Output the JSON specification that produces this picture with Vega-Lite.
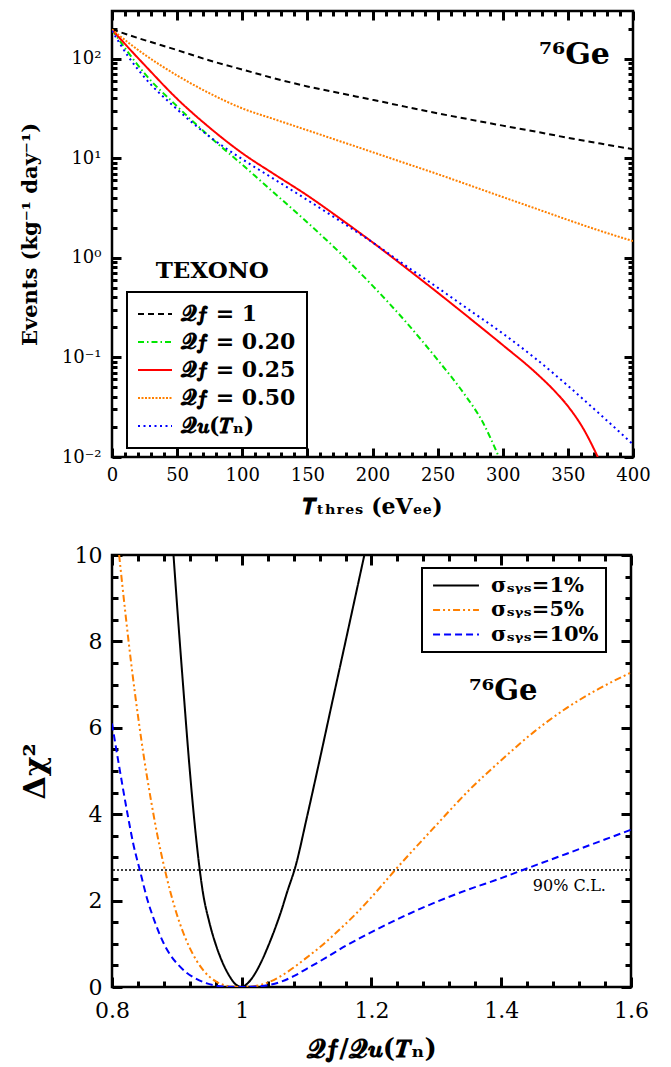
{
  "$schema": "https://vega.github.io/schema/vega-lite/v6.json",
  "padding": {"left": 18, "top": 8, "right": 10, "bottom": 5},
  "config": {
    "font": "DejaVu Serif",
    "view": {"stroke": "black", "strokeWidth": 2.5},
    "axis": {"domain": false, "grid": false, "zindex": 1, "labelColor": "black", "titleColor": "black", "labelFont": "DejaVu Serif", "titleFont": "DejaVu Serif", "labelFlush": false, "labelOverlap": false},
    "legend": {"strokeWidth": 2}
  },
  "datasets": {
    "top": [
      {"series": "Qf1", "T": 0, "events": 195.4}, {"series": "Qf1", "T": 25, "events": 153.1}, {"series": "Qf1", "T": 50, "events": 121.6}, {"series": "Qf1", "T": 75, "events": 95.5}, {"series": "Qf1", "T": 100, "events": 77.6}, {"series": "Qf1", "T": 125, "events": 63.1}, {"series": "Qf1", "T": 150, "events": 52.5}, {"series": "Qf1", "T": 175, "events": 44.9}, {"series": "Qf1", "T": 200, "events": 38.5}, {"series": "Qf1", "T": 225, "events": 32.9}, {"series": "Qf1", "T": 250, "events": 28.2}, {"series": "Qf1", "T": 275, "events": 24.4}, {"series": "Qf1", "T": 300, "events": 21.2}, {"series": "Qf1", "T": 325, "events": 18.5}, {"series": "Qf1", "T": 350, "events": 16.0}, {"series": "Qf1", "T": 375, "events": 14.0}, {"series": "Qf1", "T": 400, "events": 12.3},
      {"series": "Qf020", "T": 0, "events": 195.0}, {"series": "Qf020", "T": 12.5, "events": 114.8}, {"series": "Qf020", "T": 25, "events": 70.8}, {"series": "Qf020", "T": 50, "events": 33.1}, {"series": "Qf020", "T": 75, "events": 16.4}, {"series": "Qf020", "T": 100, "events": 8.61}, {"series": "Qf020", "T": 125, "events": 4.42}, {"series": "Qf020", "T": 150, "events": 2.26}, {"series": "Qf020", "T": 175, "events": 1.122}, {"series": "Qf020", "T": 200, "events": 0.525}, {"series": "Qf020", "T": 225, "events": 0.232}, {"series": "Qf020", "T": 250, "events": 0.0944}, {"series": "Qf020", "T": 270, "events": 0.0437}, {"series": "Qf020", "T": 285, "events": 0.0219}, {"series": "Qf020", "T": 297, "events": 0.01},
      {"series": "Qf025", "T": 0, "events": 195.4}, {"series": "Qf025", "T": 12.5, "events": 128.8}, {"series": "Qf025", "T": 25, "events": 86.1}, {"series": "Qf025", "T": 50, "events": 39.4}, {"series": "Qf025", "T": 75, "events": 20.2}, {"series": "Qf025", "T": 100, "events": 11.22}, {"series": "Qf025", "T": 125, "events": 6.84}, {"series": "Qf025", "T": 150, "events": 4.22}, {"series": "Qf025", "T": 175, "events": 2.48}, {"series": "Qf025", "T": 200, "events": 1.43}, {"series": "Qf025", "T": 225, "events": 0.804}, {"series": "Qf025", "T": 250, "events": 0.447}, {"series": "Qf025", "T": 275, "events": 0.245}, {"series": "Qf025", "T": 300, "events": 0.133}, {"series": "Qf025", "T": 325, "events": 0.0708}, {"series": "Qf025", "T": 340, "events": 0.0457}, {"series": "Qf025", "T": 350, "events": 0.0324}, {"series": "Qf025", "T": 362, "events": 0.0191}, {"series": "Qf025", "T": 373, "events": 0.01},
      {"series": "Qf050", "T": 0, "events": 195.4}, {"series": "Qf050", "T": 12.5, "events": 144.5}, {"series": "Qf050", "T": 25, "events": 109.6}, {"series": "Qf050", "T": 50, "events": 67.6}, {"series": "Qf050", "T": 75, "events": 44.7}, {"series": "Qf050", "T": 100, "events": 31.6}, {"series": "Qf050", "T": 125, "events": 24.5}, {"series": "Qf050", "T": 150, "events": 19.05}, {"series": "Qf050", "T": 175, "events": 14.8}, {"series": "Qf050", "T": 200, "events": 11.5}, {"series": "Qf050", "T": 225, "events": 8.91}, {"series": "Qf050", "T": 250, "events": 6.92}, {"series": "Qf050", "T": 275, "events": 5.31}, {"series": "Qf050", "T": 300, "events": 4.07}, {"series": "Qf050", "T": 325, "events": 3.13}, {"series": "Qf050", "T": 350, "events": 2.4}, {"series": "Qf050", "T": 375, "events": 1.86}, {"series": "Qf050", "T": 400, "events": 1.47},
      {"series": "QuTN", "T": 0, "events": 190.5}, {"series": "QuTN", "T": 12.5, "events": 104.7}, {"series": "QuTN", "T": 25, "events": 64.6}, {"series": "QuTN", "T": 50, "events": 30.9}, {"series": "QuTN", "T": 75, "events": 16.4}, {"series": "QuTN", "T": 100, "events": 9.77}, {"series": "QuTN", "T": 125, "events": 6.1}, {"series": "QuTN", "T": 150, "events": 3.8}, {"series": "QuTN", "T": 175, "events": 2.34}, {"series": "QuTN", "T": 200, "events": 1.429}, {"series": "QuTN", "T": 225, "events": 0.841}, {"series": "QuTN", "T": 250, "events": 0.501}, {"series": "QuTN", "T": 275, "events": 0.295}, {"series": "QuTN", "T": 300, "events": 0.174}, {"series": "QuTN", "T": 325, "events": 0.0977}, {"series": "QuTN", "T": 350, "events": 0.0519}, {"series": "QuTN", "T": 375, "events": 0.0266}, {"series": "QuTN", "T": 400, "events": 0.0134}
    ],
    "bottom": [
      {"sigma": "s1", "r": 0.8948, "dchi2": 10}, {"sigma": "s1", "r": 0.9, "dchi2": 8.9}, {"sigma": "s1", "r": 0.91, "dchi2": 6.9}, {"sigma": "s1", "r": 0.92, "dchi2": 5.0}, {"sigma": "s1", "r": 0.93, "dchi2": 3.4}, {"sigma": "s1", "r": 0.94, "dchi2": 2.2}, {"sigma": "s1", "r": 0.95, "dchi2": 1.5}, {"sigma": "s1", "r": 0.96, "dchi2": 0.98}, {"sigma": "s1", "r": 0.97, "dchi2": 0.58}, {"sigma": "s1", "r": 0.98, "dchi2": 0.28}, {"sigma": "s1", "r": 0.99, "dchi2": 0.07}, {"sigma": "s1", "r": 1.0, "dchi2": 0}, {"sigma": "s1", "r": 1.01, "dchi2": 0.1}, {"sigma": "s1", "r": 1.02, "dchi2": 0.3}, {"sigma": "s1", "r": 1.03, "dchi2": 0.58}, {"sigma": "s1", "r": 1.04, "dchi2": 0.92}, {"sigma": "s1", "r": 1.05, "dchi2": 1.3}, {"sigma": "s1", "r": 1.06, "dchi2": 1.72}, {"sigma": "s1", "r": 1.07, "dchi2": 2.2}, {"sigma": "s1", "r": 1.083, "dchi2": 2.8}, {"sigma": "s1", "r": 1.1, "dchi2": 3.9}, {"sigma": "s1", "r": 1.12, "dchi2": 5.25}, {"sigma": "s1", "r": 1.14, "dchi2": 6.63}, {"sigma": "s1", "r": 1.16, "dchi2": 8.0}, {"sigma": "s1", "r": 1.189, "dchi2": 10},
      {"sigma": "s5", "r": 0.811, "dchi2": 10}, {"sigma": "s5", "r": 0.82, "dchi2": 8.74}, {"sigma": "s5", "r": 0.83, "dchi2": 7.44}, {"sigma": "s5", "r": 0.84, "dchi2": 6.28}, {"sigma": "s5", "r": 0.85, "dchi2": 5.24}, {"sigma": "s5", "r": 0.86, "dchi2": 4.33}, {"sigma": "s5", "r": 0.87, "dchi2": 3.51}, {"sigma": "s5", "r": 0.88, "dchi2": 2.81}, {"sigma": "s5", "r": 0.89, "dchi2": 2.2}, {"sigma": "s5", "r": 0.9, "dchi2": 1.68}, {"sigma": "s5", "r": 0.91, "dchi2": 1.25}, {"sigma": "s5", "r": 0.92, "dchi2": 0.9}, {"sigma": "s5", "r": 0.93, "dchi2": 0.62}, {"sigma": "s5", "r": 0.94, "dchi2": 0.4}, {"sigma": "s5", "r": 0.95, "dchi2": 0.24}, {"sigma": "s5", "r": 0.96, "dchi2": 0.13}, {"sigma": "s5", "r": 0.97, "dchi2": 0.058}, {"sigma": "s5", "r": 0.98, "dchi2": 0.019}, {"sigma": "s5", "r": 0.99, "dchi2": 0.003}, {"sigma": "s5", "r": 1.0, "dchi2": 0}, {"sigma": "s5", "r": 1.02, "dchi2": 0.02}, {"sigma": "s5", "r": 1.04, "dchi2": 0.1}, {"sigma": "s5", "r": 1.06, "dchi2": 0.25}, {"sigma": "s5", "r": 1.08, "dchi2": 0.45}, {"sigma": "s5", "r": 1.1, "dchi2": 0.68}, {"sigma": "s5", "r": 1.125, "dchi2": 0.98}, {"sigma": "s5", "r": 1.15, "dchi2": 1.32}, {"sigma": "s5", "r": 1.175, "dchi2": 1.68}, {"sigma": "s5", "r": 1.2, "dchi2": 2.08}, {"sigma": "s5", "r": 1.236, "dchi2": 2.7}, {"sigma": "s5", "r": 1.3, "dchi2": 3.75}, {"sigma": "s5", "r": 1.35, "dchi2": 4.55}, {"sigma": "s5", "r": 1.4, "dchi2": 5.25}, {"sigma": "s5", "r": 1.45, "dchi2": 5.9}, {"sigma": "s5", "r": 1.5, "dchi2": 6.45}, {"sigma": "s5", "r": 1.55, "dchi2": 6.9}, {"sigma": "s5", "r": 1.6, "dchi2": 7.28},
      {"sigma": "s10", "r": 0.8, "dchi2": 6.1}, {"sigma": "s10", "r": 0.81, "dchi2": 5.2}, {"sigma": "s10", "r": 0.824, "dchi2": 4.0}, {"sigma": "s10", "r": 0.833, "dchi2": 3.3}, {"sigma": "s10", "r": 0.843, "dchi2": 2.7}, {"sigma": "s10", "r": 0.854, "dchi2": 2.05}, {"sigma": "s10", "r": 0.865, "dchi2": 1.55}, {"sigma": "s10", "r": 0.88, "dchi2": 1.0}, {"sigma": "s10", "r": 0.89, "dchi2": 0.74}, {"sigma": "s10", "r": 0.903, "dchi2": 0.5}, {"sigma": "s10", "r": 0.915, "dchi2": 0.33}, {"sigma": "s10", "r": 0.93, "dchi2": 0.19}, {"sigma": "s10", "r": 0.945, "dchi2": 0.09}, {"sigma": "s10", "r": 0.96, "dchi2": 0.03}, {"sigma": "s10", "r": 0.98, "dchi2": 0.005}, {"sigma": "s10", "r": 1.0, "dchi2": 0}, {"sigma": "s10", "r": 1.02, "dchi2": 0.01}, {"sigma": "s10", "r": 1.04, "dchi2": 0.04}, {"sigma": "s10", "r": 1.06, "dchi2": 0.12}, {"sigma": "s10", "r": 1.08, "dchi2": 0.25}, {"sigma": "s10", "r": 1.1, "dchi2": 0.42}, {"sigma": "s10", "r": 1.13, "dchi2": 0.68}, {"sigma": "s10", "r": 1.16, "dchi2": 0.95}, {"sigma": "s10", "r": 1.2, "dchi2": 1.27}, {"sigma": "s10", "r": 1.25, "dchi2": 1.64}, {"sigma": "s10", "r": 1.3, "dchi2": 1.97}, {"sigma": "s10", "r": 1.35, "dchi2": 2.26}, {"sigma": "s10", "r": 1.4, "dchi2": 2.52}, {"sigma": "s10", "r": 1.43, "dchi2": 2.69}, {"sigma": "s10", "r": 1.5, "dchi2": 3.08}, {"sigma": "s10", "r": 1.55, "dchi2": 3.36}, {"sigma": "s10", "r": 1.6, "dchi2": 3.64}
    ]
  },
  "vconcat": [
    {
      "width": 521,
      "height": 446,
      "data": {"name": "top"},
      "layer": [
        {
          "mark": {"type": "line", "clip": true, "strokeWidth": 2, "interpolate": "monotone"},
          "encoding": {
            "x": {"field": "T", "type": "quantitative", "scale": {"domain": [0, 400], "nice": false, "zero": false},
              "axis": {"orient": "bottom", "values": [0, 50, 100, 150, 200, 250, 300, 350, 400], "ticks": true, "tickColor": "#000000", "tickWidth": 3, "offset": -9, "tickSize": 9, "labelPadding": 9, "labelFontSize": 18, "title": "𝑻ₜₕᵣₑₛ (eVₑₑ)", "titleFontSize": 22, "titleFontWeight": "bold", "titlePadding": 12}},
            "y": {"field": "events", "type": "quantitative", "scale": {"type": "log", "domain": [0.01, 300], "nice": false},
              "axis": {"orient": "left", "values": [0.01, 0.1, 1, 10, 100], "ticks": true, "tickColor": "#000000", "tickWidth": 3, "offset": -9, "tickSize": 9, "labelPadding": 11, "labelFontSize": 18, "labelExpr": "datum.value >= 99 ? '10²' : datum.value >= 9 ? '10¹' : datum.value >= 0.9 ? '10⁰' : datum.value >= 0.09 ? '10⁻¹' : '10⁻²'", "title": "Events (kg⁻¹ day⁻¹)", "titleFontSize": 21, "titleFontWeight": "bold", "titlePadding": 21}},
            "color": {"field": "series", "type": "nominal",
              "scale": {"domain": ["Qf1", "Qf020", "Qf025", "Qf050", "QuTN"], "range": ["#000000", "#00e600", "#ff0000", "#ff8000", "#0000ff"]},
              "legend": {"orient": "none", "legendX": 15, "legendY": 281, "title": null, "padding": 11, "symbolOffset": 6, "symbolType": "M-2,0H2", "symbolSize": 289, "symbolStrokeWidth": 2, "labelFontSize": 22, "labelFontWeight": "bold", "labelOffset": 15, "rowPadding": 6, "strokeColor": "black", "labelColor": "black",
                "labelExpr": "datum.label == 'Qf1' ? '𝓠𝒇 = 1' : datum.label == 'Qf020' ? '𝓠𝒇 = 0.20' : datum.label == 'Qf025' ? '𝓠𝒇 = 0.25' : datum.label == 'Qf050' ? '𝓠𝒇 = 0.50' : '𝓠𝒖(𝑻ₙ)'"}},
            "strokeDash": {"field": "series", "type": "nominal",
              "scale": {"domain": ["Qf1", "Qf020", "Qf025", "Qf050", "QuTN"], "range": [[6, 4], [6, 3, 1.5, 3], [1, 0], [2, 1.5], [2, 3.5]]},
              "legend": {"orient": "none", "legendX": 15, "legendY": 281, "title": null, "padding": 11, "symbolOffset": 6, "symbolType": "M-2,0H2", "symbolSize": 289, "symbolStrokeWidth": 2, "labelFontSize": 22, "labelFontWeight": "bold", "labelOffset": 15, "rowPadding": 6, "strokeColor": "black", "labelColor": "black",
                "labelExpr": "datum.label == 'Qf1' ? '𝓠𝒇 = 1' : datum.label == 'Qf020' ? '𝓠𝒇 = 0.20' : datum.label == 'Qf025' ? '𝓠𝒇 = 0.25' : datum.label == 'Qf050' ? '𝓠𝒇 = 0.50' : '𝓠𝒖(𝑻ₙ)'"}}
          }
        },
        {
          "mark": {"type": "line", "strokeOpacity": 0},
          "encoding": {
            "x": {"field": "T", "type": "quantitative", "axis": {"orient": "bottom", "values": [10, 20, 30, 40, 60, 70, 80, 90, 110, 120, 130, 140, 160, 170, 180, 190, 210, 220, 230, 240, 260, 270, 280, 290, 310, 320, 330, 340, 360, 370, 380, 390], "ticks": true, "tickColor": "#000000", "tickWidth": 3, "offset": -5, "tickSize": 5, "labels": false, "title": null}},
            "y": {"field": "events", "type": "quantitative", "axis": {"orient": "left", "values": [0.02, 0.03, 0.04, 0.05, 0.06, 0.07, 0.08, 0.09, 0.2, 0.3, 0.4, 0.5, 0.6, 0.7, 0.8, 0.9, 2, 3, 4, 5, 6, 7, 8, 9, 20, 30, 40, 50, 60, 70, 80, 90, 200], "ticks": true, "tickColor": "#000000", "tickWidth": 3, "offset": -5, "tickSize": 5, "labels": false, "title": null}},
            "detail": {"field": "series"}
          }
        },
        {
          "mark": {"type": "line", "strokeOpacity": 0},
          "encoding": {
            "x": {"field": "T", "type": "quantitative", "axis": {"orient": "top", "values": [0, 50, 100, 150, 200, 250, 300, 350, 400], "ticks": true, "tickColor": "#000000", "tickWidth": 3, "offset": -9, "tickSize": 9, "labels": false, "title": null}},
            "y": {"field": "events", "type": "quantitative", "axis": {"orient": "right", "values": [0.01, 0.1, 1, 10, 100], "ticks": true, "tickColor": "#000000", "tickWidth": 3, "offset": -9, "tickSize": 9, "labels": false, "title": null}},
            "detail": {"field": "series"}
          }
        },
        {
          "mark": {"type": "line", "strokeOpacity": 0},
          "encoding": {
            "x": {"field": "T", "type": "quantitative", "axis": {"orient": "top", "values": [10, 20, 30, 40, 60, 70, 80, 90, 110, 120, 130, 140, 160, 170, 180, 190, 210, 220, 230, 240, 260, 270, 280, 290, 310, 320, 330, 340, 360, 370, 380, 390], "ticks": true, "tickColor": "#000000", "tickWidth": 3, "offset": -5, "tickSize": 5, "labels": false, "title": null}},
            "y": {"field": "events", "type": "quantitative", "axis": {"orient": "right", "values": [0.02, 0.03, 0.04, 0.05, 0.06, 0.07, 0.08, 0.09, 0.2, 0.3, 0.4, 0.5, 0.6, 0.7, 0.8, 0.9, 2, 3, 4, 5, 6, 7, 8, 9, 20, 30, 40, 50, 60, 70, 80, 90, 200], "ticks": true, "tickColor": "#000000", "tickWidth": 3, "offset": -5, "tickSize": 5, "labels": false, "title": null}},
            "detail": {"field": "series"}
          }
        },
        {
          "data": {"values": [{"label": "⁷⁶Ge"}]},
          "mark": {"type": "text", "fontSize": 30, "fontWeight": "bold", "align": "center", "baseline": "alphabetic", "color": "black"},
          "encoding": {
            "x": {"datum": 355, "type": "quantitative", "axis": null},
            "y": {"datum": 88, "type": "quantitative", "axis": null},
            "text": {"field": "label"}
          }
        },
        {
          "data": {"values": [{"label": "TEXONO"}]},
          "mark": {"type": "text", "fontSize": 23, "fontWeight": "bold", "align": "center", "baseline": "alphabetic", "color": "black"},
          "encoding": {
            "x": {"datum": 77, "type": "quantitative", "axis": null},
            "y": {"datum": 0.63, "type": "quantitative", "axis": null},
            "text": {"field": "label"}
          }
        }
      ],
      "resolve": {"axis": {"x": "independent", "y": "independent"}}
    },
    {
      "width": 519,
      "height": 432,
      "data": {"name": "bottom"},
      "layer": [
        {
          "data": {"values": [{"label": "90% C.L."}]},
          "mark": {"type": "rule", "strokeDash": [2, 2], "strokeWidth": 1.5, "color": "black"},
          "encoding": {"y": {"datum": 2.706, "type": "quantitative", "axis": null}}
        },
        {
          "mark": {"type": "line", "clip": true, "strokeWidth": 2, "interpolate": "monotone"},
          "encoding": {
            "x": {"field": "r", "type": "quantitative", "scale": {"domain": [0.8, 1.6], "nice": false, "zero": false},
              "axis": {"orient": "bottom", "values": [0.8, 1, 1.2, 1.4, 1.6], "format": "~g", "ticks": true, "tickColor": "#000000", "tickWidth": 3, "offset": -10, "tickSize": 10, "labelPadding": 13, "labelFontSize": 22, "title": "𝓠𝒇/𝓠𝒖(𝑻ₙ)", "titleFontSize": 26, "titleFontWeight": "bold", "titlePadding": 14}},
            "y": {"field": "dchi2", "type": "quantitative", "scale": {"domain": [0, 10], "nice": false},
              "axis": {"orient": "left", "values": [0, 2, 4, 6, 8, 10], "ticks": true, "tickColor": "#000000", "tickWidth": 3, "offset": -10, "tickSize": 10, "labelPadding": 10, "labelFontSize": 22, "title": "Δχ²", "titleFontSize": 30, "titleFontWeight": "bold", "titlePadding": 24}},
            "color": {"field": "sigma", "type": "nominal",
              "scale": {"domain": ["s1", "s5", "s10"], "range": ["#000000", "#ff8000", "#0000ff"]},
              "legend": {"orient": "none", "legendX": 310, "legendY": 13, "title": null, "padding": 7, "symbolOffset": 16.5, "symbolType": "M-2.7,0H2.7", "symbolSize": 289, "symbolStrokeWidth": 2, "labelFontSize": 21, "labelFontWeight": "bold", "labelOffset": 24.5, "rowPadding": 2.5, "strokeColor": "black", "labelColor": "black",
                "labelExpr": "datum.label == 's1' ? 'σₛᵧₛ=1%\u00a0' : datum.label == 's5' ? 'σₛᵧₛ=5%\u00a0' : 'σₛᵧₛ=10%\u00a0'"}},
            "strokeDash": {"field": "sigma", "type": "nominal",
              "scale": {"domain": ["s1", "s5", "s10"], "range": [[1, 0], [7, 3, 2, 3, 2, 3], [7, 4]]},
              "legend": {"orient": "none", "legendX": 310, "legendY": 13, "title": null, "padding": 7, "symbolOffset": 16.5, "symbolType": "M-2.7,0H2.7", "symbolSize": 289, "symbolStrokeWidth": 2, "labelFontSize": 21, "labelFontWeight": "bold", "labelOffset": 24.5, "rowPadding": 2.5, "strokeColor": "black", "labelColor": "black",
                "labelExpr": "datum.label == 's1' ? 'σₛᵧₛ=1%\u00a0' : datum.label == 's5' ? 'σₛᵧₛ=5%\u00a0' : 'σₛᵧₛ=10%\u00a0'"}}
          }
        },
        {
          "mark": {"type": "line", "strokeOpacity": 0},
          "encoding": {
            "x": {"field": "r", "type": "quantitative", "axis": {"orient": "bottom", "values": [0.84, 0.88, 0.92, 0.96, 1.04, 1.08, 1.12, 1.16, 1.24, 1.28, 1.32, 1.36, 1.44, 1.48, 1.52, 1.56], "ticks": true, "tickColor": "#000000", "tickWidth": 3, "offset": -6, "tickSize": 6, "labels": false, "title": null}},
            "y": {"field": "dchi2", "type": "quantitative", "axis": {"orient": "left", "values": [0.5, 1, 1.5, 2.5, 3, 3.5, 4.5, 5, 5.5, 6.5, 7, 7.5, 8.5, 9, 9.5], "ticks": true, "tickColor": "#000000", "tickWidth": 3, "offset": -6, "tickSize": 6, "labels": false, "title": null}},
            "detail": {"field": "sigma"}
          }
        },
        {
          "mark": {"type": "line", "strokeOpacity": 0},
          "encoding": {
            "x": {"field": "r", "type": "quantitative", "axis": {"orient": "top", "values": [0.8, 1, 1.2, 1.4, 1.6], "ticks": true, "tickColor": "#000000", "tickWidth": 3, "offset": -10, "tickSize": 10, "labels": false, "title": null}},
            "y": {"field": "dchi2", "type": "quantitative", "axis": {"orient": "right", "values": [0, 2, 4, 6, 8, 10], "ticks": true, "tickColor": "#000000", "tickWidth": 3, "offset": -10, "tickSize": 10, "labels": false, "title": null}},
            "detail": {"field": "sigma"}
          }
        },
        {
          "mark": {"type": "line", "strokeOpacity": 0},
          "encoding": {
            "x": {"field": "r", "type": "quantitative", "axis": {"orient": "top", "values": [0.84, 0.88, 0.92, 0.96, 1.04, 1.08, 1.12, 1.16, 1.24, 1.28, 1.32, 1.36, 1.44, 1.48, 1.52, 1.56], "ticks": true, "tickColor": "#000000", "tickWidth": 3, "offset": -6, "tickSize": 6, "labels": false, "title": null}},
            "y": {"field": "dchi2", "type": "quantitative", "axis": {"orient": "right", "values": [0.5, 1, 1.5, 2.5, 3, 3.5, 4.5, 5, 5.5, 6.5, 7, 7.5, 8.5, 9, 9.5], "ticks": true, "tickColor": "#000000", "tickWidth": 3, "offset": -6, "tickSize": 6, "labels": false, "title": null}},
            "detail": {"field": "sigma"}
          }
        },
        {
          "data": {"values": [{"label": "90% C.L."}]},
          "mark": {"type": "text", "fontSize": 16, "align": "center", "baseline": "middle", "color": "black"},
          "encoding": {
            "x": {"datum": 1.505, "type": "quantitative", "axis": null},
            "y": {"datum": 2.34, "type": "quantitative", "axis": null},
            "text": {"field": "label"}
          }
        },
        {
          "data": {"values": [{"label": "⁷⁶Ge"}]},
          "mark": {"type": "text", "fontSize": 29, "fontWeight": "bold", "align": "center", "baseline": "alphabetic", "color": "black"},
          "encoding": {
            "x": {"datum": 1.403, "type": "quantitative", "axis": null},
            "y": {"datum": 6.65, "type": "quantitative", "axis": null},
            "text": {"field": "label"}
          }
        }
      ],
      "resolve": {"axis": {"x": "independent", "y": "independent"}}
    }
  ],
  "spacing": 23,
  "resolve": {"scale": {"color": "independent", "strokeDash": "independent"}}
}
